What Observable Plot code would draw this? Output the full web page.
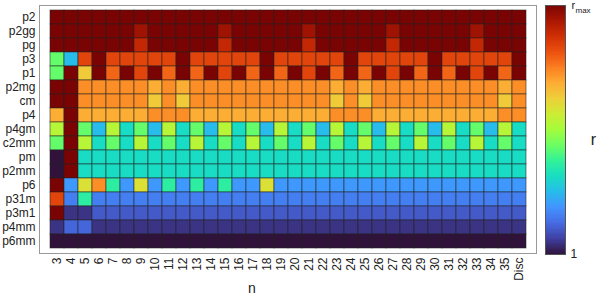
<!DOCTYPE html>
<html><head><meta charset="utf-8">
<script src="https://cdn.jsdelivr.net/npm/d3@7"></script>
<script src="https://cdn.jsdelivr.net/npm/@observablehq/plot@0.6"></script>
<style>
body{margin:0;background:#fff;}
#wrap{position:relative;width:598px;height:299px;}
#wrap svg{position:absolute;left:0;top:0;}
</style></head><body><div id="wrap"></div>
<script>
// Row categories (wallpaper groups), top to bottom
const groups = ["p2","p2gg","pg","p3","p1","p2mg","cm","p4","p4gm","c2mm","pm","p2mm","p6","p31m","p3m1","p4mm","p6mm"];
// Column categories
const nLabels = ["3","4","5","6","7","8","9","10","11","12","13","14","15","16","17","18","19","20","21","22","23","24","25","26","27","28","29","30","31","32","33","34","35","Disc"];
const rMin = 1, rMax = 19;

// Values per row (n = 3..12 | 13..22 | 23..32 | 33,34,35,Disc)
const p2   = [19,19,19,19,19,19,19,19,19,19, 19,19,19,19,19,19,19,19,19,19, 19,19,19,19,19,19,19,19,19,19, 19,19,19,19];
const p2gg = [19,19,19,19,19,19,18.1,19,19,19, 19,19,18.1,19,19,19,19,19,18.1,19, 19,19,19,19,18.1,19,19,19,19,19, 18.1,19,19,19];
const pg   = [19,19,19,19,19,19,17.1,19,19,19, 19,19,17.1,19,19,19,19,19,17.1,19, 19,19,19,19,17.1,19,19,19,19,19, 17.1,19,19,19];
const p3   = [8.7,5.5,16,19,16,16,16,16,16,19, 16,16,16,16,16,19,16,16,16,16, 16,19,16,16,16,16,16,19,16,16, 16,16,16,19];
const p1   = [8.7,19,12.4,19,15.1,19,16,19,15.1,19, 15.1,19,16,19,15.1,19,15.1,19,16,19, 15.1,19,15.1,19,16,19,15.1,19,15.1,19, 16,19,15.1,19];
const p2mg = [19,19,14.1,14.1,14.1,14.1,14.1,13.3,14.1,13.3, 14.1,14.1,14.1,14.1,14.1,14.1,14.1,14.1,14.1,14.1, 13.3,14.1,13.3,14.1,14.1,14.1,14.1,14.1,14.1,14.1, 14.1,14.1,13.3,14.1];
const cm   = [19,19,14.1,14.1,14.1,14.1,14.1,12.4,14.1,12.4, 14.1,14.1,14.1,14.1,14.1,14.1,14.1,14.1,14.1,14.1, 12.4,14.1,12.4,14.1,14.1,14.1,14.1,14.1,14.1,14.1, 14.1,14.1,12.4,14.1];
const p4   = [13.3,19,13.3,13.3,13.3,13.3,13.3,14.1,14.1,14.1, 13.3,13.3,13.3,13.3,13.3,13.3,13.3,13.3,13.3,13.3, 14.1,14.1,14.1,13.3,13.3,13.3,13.3,13.3,13.3,13.3, 13.3,13.3,14.1,14.1];
const p4gm = [10.5,19,8.7,5.5,10.5,6.6,8.7,5.5,10.5,6.6, 8.7,5.5,10.5,6.6,8.7,5.5,10.5,6.6,8.7,5.5, 10.5,6.6,8.7,5.5,10.5,6.6,8.7,5.5,10.5,6.6, 8.7,5.5,10.5,6.6];
const c2mm = [8.7,19,10.5,6.6,8.7,6.6,10.5,6.6,8.7,6.6, 10.5,6.6,8.7,6.6,10.5,6.6,8.7,6.6,10.5,6.6, 8.7,6.6,10.5,6.6,8.7,6.6,10.5,6.6,8.7,6.6, 10.5,6.6,8.7,6.6];
const pm   = [1,19,6.6,6.6,6.6,6.6,6.6,6.6,6.6,6.6, 6.6,6.6,6.6,6.6,6.6,6.6,6.6,6.6,6.6,6.6, 6.6,6.6,6.6,6.6,6.6,6.6,6.6,6.6,6.6,6.6, 6.6,6.6,6.6,6.6];
const p2mm = [1,19,6.6,6.6,6.6,6.6,6.6,6.6,6.6,6.6, 6.6,6.6,6.6,6.6,6.6,6.6,6.6,6.6,6.6,6.6, 6.6,6.6,6.6,6.6,6.6,6.6,6.6,6.6,6.6,6.6, 6.6,6.6,6.6,6.6];
const p6   = [19,4.5,11.6,14.1,7.5,4.5,11.6,4.5,7.5,4.5, 7.5,4.5,7.5,4.5,4.5,11.6,4.5,4.5,4.5,4.5, 4.5,4.5,4.5,4.5,4.5,4.5,4.5,4.5,4.5,4.5, 4.5,4.5,4.5,4.5];
const p31m = [16,3.8,7.5,3.8,3.8,3.8,3.8,3.8,3.8,3.8, 3.8,3.8,3.8,3.8,3.8,3.8,3.8,3.8,3.8,3.8, 3.8,3.8,3.8,3.8,3.8,3.8,3.8,3.8,3.8,3.8, 3.8,3.8,3.8,3.8];
const p3m1 = [19,1.8,1.8,2.8,2.8,2.8,2.8,2.8,2.8,2.8, 2.8,2.8,2.8,2.8,2.8,2.8,2.8,2.8,2.8,2.8, 2.8,2.8,2.8,2.8,2.8,2.8,2.8,2.8,2.8,2.8, 2.8,2.8,2.8,2.8];
const p4mm = [1.8,3.1,3.1,1.8,1.8,1.8,1.8,1.8,1.8,1.8, 1.8,1.8,1.8,1.8,1.8,1.8,1.8,1.8,1.8,1.8, 1.8,1.8,1.8,1.8,1.8,1.8,1.8,1.8,1.8,1.8, 1.8,1.8,1.8,1.8];
const p6mm = [1,1,1,1,1,1,1,1,1,1, 1,1,1,1,1,1,1,1,1,1, 1,1,1,1,1,1,1,1,1,1, 1,1,1,1];

const rows = [p2,p2gg,pg,p3,p1,p2mg,cm,p4,p4gm,c2mm,pm,p2mm,p6,p31m,p3m1,p4mm,p6mm];
const data = groups.flatMap((g, i) => rows[i].map((v, j) => ({group: g, n: nLabels[j], r: v})));

// Turbo colormap anchors (Google/Matlab turbo)
const turboStops = ["#30123b","#4040a2","#466be3","#4294ff","#28bceb","#18ddc2","#32f298","#6dfe62","#a4fc3c","#cdec34","#eecf3a","#fdac34","#fb7e21","#eb500e","#d02f05","#a91601","#7a0403"];
const turbo = d3.piecewise(d3.interpolateRgb, turboStops);
const colorOpts = {type: "linear", domain: [rMin, rMax], interpolate: turbo};
const font = "'Liberation Sans', Arial, Helvetica, sans-serif";

const main = Plot.plot({
  width: 598, height: 299,
  marginLeft: 39, marginRight: 62, marginTop: 5, marginBottom: 46,
  style: {fontFamily: font, fontSize: "12px", color: "#222", background: "white"},
  x: {domain: nLabels, padding: 0, tickRotate: -90, tickSize: 0, tickPadding: 4, label: null},
  y: {domain: groups, padding: 0, tickSize: 0, tickPadding: 4, label: null},
  color: colorOpts,
  marks: [
    Plot.cell(data, {x: "n", y: "group", fill: "r", stroke: "#222", strokeOpacity: 0.55, strokeWidth: 1}),
    Plot.frame({stroke: "#999"}),
    Plot.text(["n"], {frameAnchor: "bottom", text: d => d, dx: -36, dy: 39, fontSize: 14})
  ]
});

const steps = 200;
const bands = d3.range(steps).map(i => ({lo: rMin + (rMax - rMin) * i / steps, hi: rMin + (rMax - rMin) * (i + 1) / steps}));
const bar = Plot.plot({
  width: 598, height: 299,
  marginLeft: 545, marginRight: 33, marginTop: 5, marginBottom: 45,
  style: {fontFamily: font, fontSize: "11px", color: "#222", background: "transparent", overflow: "visible"},
  x: {domain: [0, 1], axis: null},
  y: {domain: [rMin, rMax], axis: null},
  color: colorOpts,
  marks: [
    Plot.rect(bands, {x1: 0, x2: 1, y1: "lo", y2: "hi", fill: d => (d.lo + d.hi) / 2, shapeRendering: "crispEdges"}),
    Plot.frame({stroke: "#555"}),
    Plot.text([rMin], {x: 1, y: d => d, text: d => String(d), dx: 5, textAnchor: "start", fontSize: 12}),
    Plot.text([rMax], {x: 1, y: d => d, text: () => "r", dx: 6, textAnchor: "start", fontSize: 11}),
    Plot.text([rMax], {x: 1, y: d => d, text: () => "max", dx: 10, dy: 5, textAnchor: "start", fontSize: 8}),
    Plot.text(["r"], {frameAnchor: "middle", text: d => d, dx: 38, dy: 10, fontSize: 16})
  ]
});

const wrap = document.getElementById("wrap");
wrap.appendChild(main);
wrap.appendChild(bar);
</script></body></html>
